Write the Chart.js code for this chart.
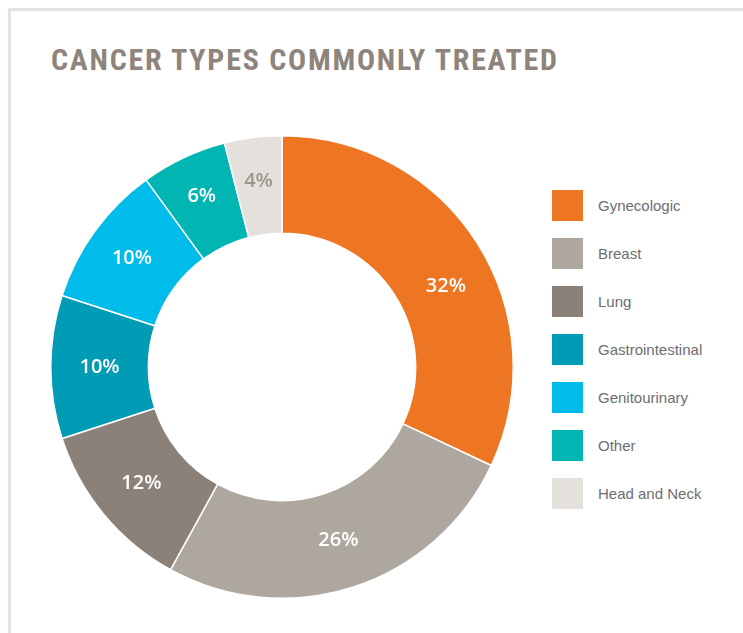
<!DOCTYPE html>
<html>
<head>
<meta charset="utf-8">
<script src="https://cdn.jsdelivr.net/npm/chart.js@4/dist/chart.umd.min.js"></script>
<style>
  html, body { margin: 0; padding: 0; background: #fff; }
  body { width: 743px; height: 633px; position: relative; overflow: hidden; }
  #frame {
    position: absolute; left: 8px; top: 8px; width: 740px; height: 700px;
    border: 3px solid #e6e3df; box-sizing: border-box;
  }
  #titulo {
    position: absolute; left: 51px; top: 42px; margin: 0;
    font-family: 'Liberation Sans Narrow', 'Roboto Condensed', 'Liberation Sans', sans-serif;
    font-weight: bold; font-size: 30px; color: #8f847c; letter-spacing: 1.75px;
    white-space: nowrap;
  }
  #donutBox { position: absolute; left: 40px; top: 125px; width: 484px; height: 484px; }
  #legenda { position: absolute; left: 552px; top: 190px; margin: 0; padding: 0; list-style: none; }
  #legenda li { height: 48px; display: flex; align-items: flex-start; }
  #legenda span.caixa { width: 31px; height: 31px; display: inline-block; }
  #legenda span.texto {
    margin-left: 15px; line-height: 32px;
    font-family: 'Liberation Sans', 'Open Sans', sans-serif; font-size: 15px; color: #6d6e71;
  }
</style>
</head>
<body>
<div id="frame"></div>
<h1 id="titulo">CANCER TYPES COMMONLY TREATED</h1>
<div id="donutBox"><canvas id="meuDonut"></canvas></div>
<ul id="legenda"></ul>
<script>
// dados
const categorias = ['Gynecologic', 'Breast', 'Lung', 'Gastrointestinal', 'Genitourinary', 'Other', 'Head and Neck'];
const percentuais = [32, 26, 12, 10, 10, 6, 4];
const cores = ['#ee7623', '#aea79f', '#8c8179', '#009bb5', '#00bceb', '#00b5b2', '#e4e1dc'];
const coresRotulo = ['#ffffff', '#ffffff', '#ffffff', '#ffffff', '#ffffff', '#ffffff', '#9c948d'];

// legenda em html, feita a partir dos mesmos arrays
const legenda = document.getElementById('legenda');
categorias.forEach((nome, i) => {
    const li = document.createElement('li');
    li.innerHTML = '<span class="caixa" style="background:' + cores[i] + '"></span><span class="texto">' + nome + '</span>';
    legenda.appendChild(li);
});

// escreve o % no meio de cada fatia
// (o rotulo de 32% no original fica um pouco mais pra baixo, gira ele um pouco)
const giroRotulo = [0.11, 0, 0, 0, 0, 0, 0];
const afastaRotulo = [0, 0, 0, 0, 3, 6, 5];
const rotulosFatia = {
    id: 'rotulosFatia',
    afterDatasetsDraw(chart) {
        const c = chart.ctx;
        const meta = chart.getDatasetMeta(0);
        c.save();
        c.font = '600 20px "Open Sans", "Liberation Sans", sans-serif';
        c.textAlign = 'center';
        c.textBaseline = 'middle';
        meta.data.forEach((arc, i) => {
            const ang = (arc.startAngle + arc.endAngle) / 2 + giroRotulo[i];
            const r = (arc.innerRadius + arc.outerRadius) / 2 + afastaRotulo[i];
            c.fillStyle = coresRotulo[i];
            c.fillText(percentuais[i] + '%', arc.x + Math.cos(ang) * r, arc.y + Math.sin(ang) * r);
        });
        c.restore();
    }
};

const ctx = document.getElementById('meuDonut');

new Chart(ctx, {
    type: 'doughnut',
    data: {
        labels: categorias,
        datasets: [{
            data: percentuais,
            backgroundColor: cores,
            borderColor: '#ffffff',
            borderWidth: 1.5,
            hoverOffset: 0
        }]
    },
    options: {
        cutout: '57.8%',
        responsive: true,
        maintainAspectRatio: false,
        animation: false,
        layout: { padding: 10 },
        plugins: {
            legend: { display: false },
            tooltip: { enabled: false }
        }
    },
    plugins: [rotulosFatia]
});
</script>
</body>
</html>
